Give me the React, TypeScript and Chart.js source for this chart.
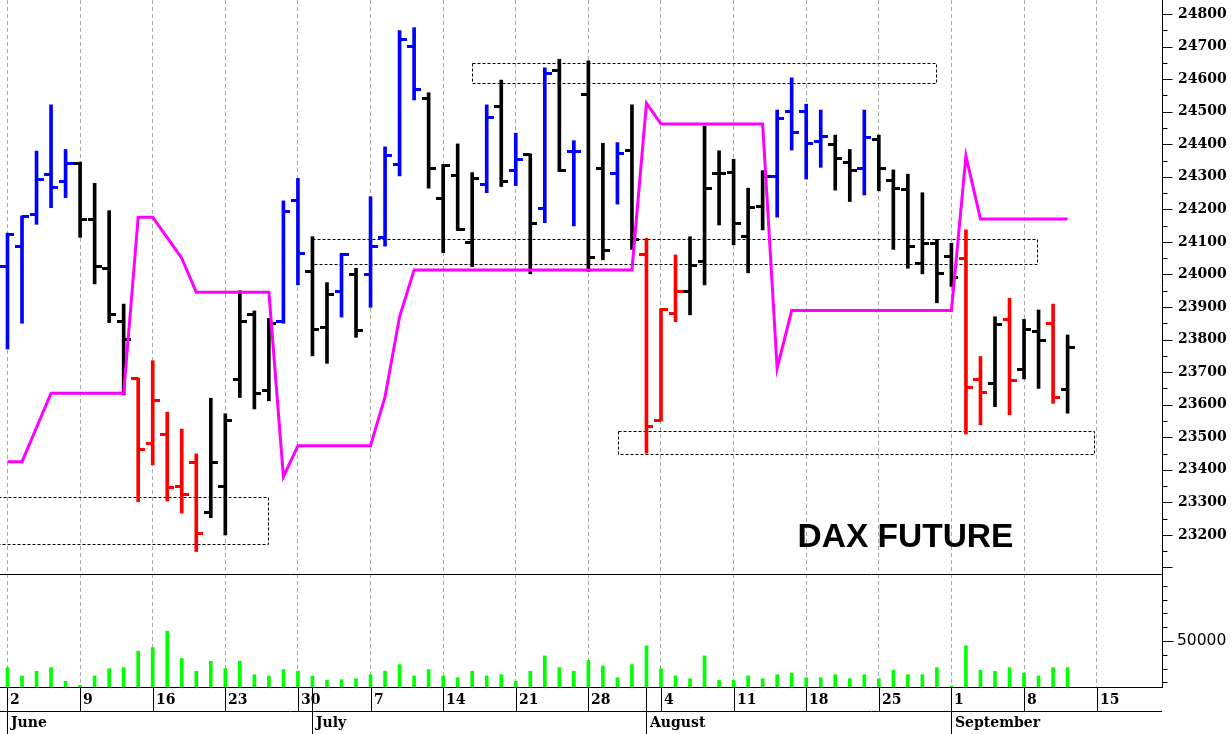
import React, { useEffect, useRef } from "react";
import { Chart, registerables } from "chart.js";

Chart.register(...registerables);

// ---------- DATA (trading days from Mon 2 June to Thu 11 September) ----------
const opens = [
  24023, 24085, 24183, 24306, 24285, 24341, 24170, 24019, 23855, 23679,
  23482, 23507, 23348, 23423, 23270, 23348, 23678, 23878, 23645, 23857,
  24226, 24009, 23837, 23947, 23999, 23999, 24114, 24338, 24700, 24541,
  24232, 24303, 24099, 24275, 24517, 24319, 24367, 24203, 24628, 24377,
  24553, 24326, 24311, 24382, 24060, 23553, 23879, 23947, 24039, 24311,
  24313, 24118, 24208, 24302, 24500, 24500, 24408, 24398, 24345, 24326,
  24415, 24290, 24262, 24034, 24096, 24055, 24050, 23676, 23664, 23862,
  23709, 23824, 23848, 23648,
];
const highs = [
  24127, 24180, 24379, 24521, 24384, 24345, 24280, 24196, 23909, 23682,
  23735, 23577, 23525, 23449, 23620, 23572, 23950, 23888, 23865, 24226,
  24295, 24116, 23975, 24065, 24019, 24239, 24392, 24749, 24758, 24558,
  24338, 24401, 24313, 24521, 24597, 24434, 24370, 24635, 24661, 24411,
  24656, 24403, 24405, 24521, 24111, 23895, 24060, 24116, 24456, 24380,
  24354, 24265, 24319, 24505, 24604, 24523, 24505, 24428, 24384, 24505,
  24428, 24321, 24308, 24251, 24108, 24096, 24137, 23748, 23870, 23927,
  23862, 23891, 23909, 23814,
];
const lows = [
  23771, 23850, 24154, 24205, 24236, 24114, 23971, 23852, 23630, 23302,
  23415, 23304, 23267, 23149, 23253, 23200, 23622, 23587, 23612, 23850,
  23968, 23750, 23727, 23869, 23807, 23899, 24087, 24303, 24536, 24265,
  24067, 24135, 24024, 24251, 24270, 24273, 24002, 24159, 24316, 24149,
  24009, 24045, 24216, 24077, 23451, 23550, 23855, 23876, 23968, 24152,
  24091, 24005, 24137, 24176, 24382, 24293, 24329, 24259, 24224, 24244,
  24257, 24077, 24019, 24002, 23913, 23963, 23510, 23538, 23594, 23569,
  23679, 23650, 23604, 23574,
];
const closes = [
  24122, 24178, 24293, 24267, 24341, 24170, 24024, 23878, 23799, 23463,
  23612, 23345, 23323, 23203, 23423, 23551, 23855, 23635, 23850, 24192,
  24063, 23832, 23937, 24060, 23827, 24085, 24365, 24723, 24567, 24324,
  24336, 24139, 24295, 24483, 24287, 24352, 24157, 24616, 24319, 24377,
  24053, 24073, 24372, 24108, 23533, 23893, 23947, 24029, 24265, 24311,
  24157, 24206, 24300, 24480, 24437, 24403, 24425, 24357, 24319, 24421,
  24324, 24265, 24085, 24094, 24004, 23990, 23652, 23638, 23847, 23673,
  23832, 23796, 23623, 23775,
];
// bar colour code: b = blue, k = black, r = red
const barColorCodes = [
  "b", "b", "b", "b", "b", "k", "k", "k", "k", "r",
  "r", "r", "r", "r", "k", "k", "k", "k", "k", "b",
  "b", "k", "k", "b", "k", "b", "b", "b", "b", "k",
  "k", "k", "k", "b", "k", "b", "k", "b", "k", "b",
  "k", "k", "b", "k", "r", "r", "r", "k", "k", "k",
  "k", "k", "k", "b", "b", "b", "b", "k", "k", "b",
  "k", "k", "k", "k", "k", "k", "r", "r", "k", "r",
  "k", "k", "r", "k",
];
const stopLine = [
  23425, 23425, 23530, 23635, 23635, 23635, 23635, 23635, 23635, 24176,
  24176, 24113, 24050, 23945, 23945, 23945, 23945, 23945, 23945, 23379,
  23474, 23474, 23474, 23474, 23474, 23474, 23625, 23870, 24014, 24014,
  24014, 24014, 24014, 24014, 24014, 24014, 24014, 24014, 24014, 24014,
  24014, 24014, 24014, 24014, 24526, 24462, 24462, 24462, 24462, 24462,
  24462, 24462, 24462, 23712, 23889, 23889, 23889, 23889, 23889, 23889,
  23889, 23889, 23889, 23889, 23889, 23889, 24364, 24170, 24170, 24170,
  24170, 24170, 24170, 24170,
];
const volumes = [
  30700, 24700, 28100, 30700, 20800, 17900, 24700, 30000, 30700, 42600,
  45200, 57100, 37300, 28100, 35300, 30000, 35300, 25600, 24700, 29300,
  28100, 24700, 21500, 22000, 22700, 25600, 28100, 32900, 24700, 29300,
  24700, 23400, 28100, 24700, 25600, 20800, 28100, 39200, 30700, 28100,
  36000, 31900, 23400, 32900, 46500, 30000, 24700, 22700, 39200, 21500,
  21500, 24700, 22700, 25600, 26800, 23400, 23400, 25600, 22700, 25600,
  22700, 28800, 25600, 25600, 30700, 17400, 46500, 28800, 28100, 30700,
  26800, 24700, 30700, 30700,
];
// x-axis calendar
const weekStarts = [0, 5, 10, 15, 20, 25, 30, 35, 40, 45, 50, 55, 60, 65, 70, 75];
const weekLabels = ["2", "9", "16", "23", "30", "7", "14", "21", "28", "4", "11", "18", "25", "1", "8", "15"];
const monthStarts = [0, 21, 44, 65];
const monthLabels = ["June", "July", "August", "September"];
// y-axis ticks
const priceLabelTicks = [23200, 23300, 23400, 23500, 23600, 23700, 23800, 23900, 24000, 24100, 24200, 24300, 24400, 24500, 24600, 24700, 24800];
const priceMarkTicks = [23100, 23150, 23200, 23250, 23300, 23350, 23400, 23450, 23500, 23550, 23600, 23650, 23700, 23750, 23800, 23850, 23900, 23950, 24000, 24050, 24100, 24150, 24200, 24250, 24300, 24350, 24400, 24450, 24500, 24550, 24600, 24650, 24700, 24750, 24800];
const volumeLabelTicks = [50000];
const volumeMarkTicks = [20000, 30000, 40000, 50000, 60000, 70000, 80000, 90000];
// dotted zones (day index / price)
const zoneStart = [-2, 32.0, 21.0, 42.07];
const zoneEnd = [17.92, 63.95, 70.9, 74.85];
const zoneTop = [23316, 24649, 24108, 23519];
const zoneBottom = [23171, 24587, 24031, 23449];
const titleText = "DAX FUTURE";
const titleAt = { day: 54.4, price: 23164 };

const BLUE = "#0000ff";
const RED = "#ff0000";
const BLACK = "#000000";
const MAGENTA = "#ff00ff";
const GREEN = "#00ff00";

const colorOf = (k: string) => (k === "b" ? BLUE : k === "r" ? RED : BLACK);

function tickImage(color: string, side: "left" | "right") {
  const len = 7;
  const c = document.createElement("canvas");
  c.width = len * 2;
  c.height = 3;
  const g = c.getContext("2d")!;
  g.fillStyle = color;
  g.fillRect(side === "left" ? 0 : len, 0, len, 3);
  return c;
}

const overlay = {
  id: "overlay",
  beforeDatasetsDraw(chart: any) {
    const { ctx, chartArea, scales } = chart;
    const xs = scales.x;
    const ys = scales.y;
    ctx.save();
    ctx.beginPath();
    ctx.rect(chartArea.left, ys.top, chartArea.right - chartArea.left, ys.bottom - ys.top);
    ctx.clip();
    ctx.setLineDash([3, 2]);
    ctx.strokeStyle = "#000";
    ctx.lineWidth = 1;
    for (let k = 0; k < zoneStart.length; k++) {
      const x0 = Math.round(xs.getPixelForValue(zoneStart[k])) + 0.5;
      const x1 = Math.round(xs.getPixelForValue(zoneEnd[k])) + 0.5;
      const y0 = Math.round(ys.getPixelForValue(zoneTop[k])) + 0.5;
      const y1 = Math.round(ys.getPixelForValue(zoneBottom[k])) + 0.5;
      ctx.strokeRect(x0, y0, x1 - x0, y1 - y0);
    }
    ctx.restore();
  },
  afterDraw(chart: any) {
    const { ctx, chartArea, scales } = chart;
    const xs = scales.x;
    const ys = scales.y;
    const yv = scales.yv;
    const right = chartArea.right;
    const axisX = Math.round(ys.left) + 0.5;
    ctx.save();
    ctx.strokeStyle = "#000";
    ctx.fillStyle = "#000";
    ctx.lineWidth = 1;
    ctx.setLineDash([]);

    // panel separator and baselines
    const sepY = Math.round(ys.bottom) + 0.5;
    const baseY = Math.round(yv.bottom) + 0.5;
    const rowY = baseY + 24;
    const bottomY = chart.height;
    ctx.beginPath();
    ctx.moveTo(0, sepY); ctx.lineTo(right, sepY);
    ctx.moveTo(0, baseY); ctx.lineTo(right, baseY);
    ctx.moveTo(0, rowY); ctx.lineTo(right, rowY);
    ctx.stroke();

    // axis tick marks
    ctx.beginPath();
    for (const v of priceMarkTicks) {
      const py = Math.round(ys.getPixelForValue(v)) + 0.5;
      const len = v % 100 === 0 ? 10 : 5;
      ctx.moveTo(axisX, py); ctx.lineTo(axisX + len, py);
    }
    for (const v of volumeMarkTicks) {
      const py = Math.round(yv.getPixelForValue(v)) + 0.5;
      const len = volumeLabelTicks.includes(v) ? 11 : 5;
      ctx.moveTo(axisX, py); ctx.lineTo(axisX + len, py);
    }
    ctx.stroke();

    // date rows
    ctx.font = 'bold 14px "DejaVu Serif"';
    ctx.textBaseline = "middle";
    ctx.textAlign = "left";
    ctx.beginPath();
    weekStarts.forEach((d) => {
      const px = Math.round(xs.getPixelForValue(d)) + 0.5;
      ctx.moveTo(px, baseY); ctx.lineTo(px, rowY);
    });
    monthStarts.forEach((d) => {
      const px = Math.round(xs.getPixelForValue(d)) + 0.5;
      ctx.moveTo(px, baseY); ctx.lineTo(px, bottomY);
    });
    ctx.stroke();
    weekStarts.forEach((d, i) => {
      const px = Math.round(xs.getPixelForValue(d));
      ctx.fillText(weekLabels[i], px + 3, baseY + 12.5);
    });
    monthStarts.forEach((d, i) => {
      const px = Math.round(xs.getPixelForValue(d));
      ctx.fillText(monthLabels[i], px + 4, rowY + 12);
    });

    // title
    ctx.font = 'bold 33.5px "Liberation Sans"';
    ctx.textBaseline = "alphabetic";
    ctx.fillText(titleText, xs.getPixelForValue(titleAt.day), ys.getPixelForValue(titleAt.price));
    ctx.restore();
  },
};

export default function App() {
  const ref = useRef<HTMLCanvasElement>(null);
  useEffect(() => {
    const canvas = ref.current!;
    const openImgs: Record<string, HTMLCanvasElement> = {
      b: tickImage(BLUE, "left"), k: tickImage(BLACK, "left"), r: tickImage(RED, "left"),
    };
    const closeImgs: Record<string, HTMLCanvasElement> = {
      b: tickImage(BLUE, "right"), k: tickImage(BLACK, "right"), r: tickImage(RED, "right"),
    };
    const chart = new Chart(canvas, {
      type: "bar",
      data: {
        datasets: [
          {
            type: "line",
            data: stopLine.map((v, i) => ({ x: i, y: v })),
            yAxisID: "y",
            borderColor: MAGENTA,
            borderWidth: 3,
            pointRadius: 0,
            tension: 0,
            fill: false,
          } as any,
          {
            type: "line",
            data: opens.map((v, i) => ({ x: i, y: v })),
            yAxisID: "y",
            showLine: false,
            pointRadius: 2,
            pointStyle: (c: any) => openImgs[barColorCodes[c.dataIndex]],
          } as any,
          {
            type: "line",
            data: closes.map((v, i) => ({ x: i, y: v })),
            yAxisID: "y",
            showLine: false,
            pointRadius: 2,
            pointStyle: (c: any) => closeImgs[barColorCodes[c.dataIndex]],
          } as any,
          {
            type: "bar",
            data: lows.map((v, i) => ({ x: i, y: [v, highs[i]] })),
            yAxisID: "y",
            grouped: false,
            barThickness: 3,
            borderWidth: 0,
            backgroundColor: (c: any) => colorOf(barColorCodes[c.dataIndex]),
          } as any,
          {
            type: "bar",
            data: volumes.map((v, i) => ({ x: i, y: v })),
            yAxisID: "yv",
            grouped: false,
            barThickness: 3,
            borderWidth: 0,
            backgroundColor: GREEN,
          } as any,
        ],
      },
      options: {
        responsive: false,
        maintainAspectRatio: false,
        devicePixelRatio: 1,
        animation: false,
        events: [],
        layout: { padding: 0, autoPadding: false },
        plugins: { legend: { display: false }, tooltip: { enabled: false } },
        scales: {
          x: {
            type: "linear",
            min: -0.516,
            max: 79.5,
            offset: false,
            afterBuildTicks: (s: any) => { s.ticks = weekStarts.map((v) => ({ value: v })); },
            afterFit: (s: any) => { s.height = 47; s.paddingLeft = 0; s.paddingRight = 0; },
            ticks: { display: false },
            grid: { color: "#a8a8a8", lineWidth: 1, drawTicks: false, offset: false },
            border: { display: false, dash: [4, 3] },
          },
          y: {
            type: "linear",
            position: "right",
            stack: "panels",
            stackWeight: 574,
            min: 23080,
            max: 24843,
            afterBuildTicks: (s: any) => { s.ticks = priceLabelTicks.map((v) => ({ value: v })); },
            afterFit: (s: any) => { s.width = 70; s.paddingTop = 0; s.paddingBottom = 0; },
            ticks: {
              autoSkip: false, padding: 16, color: "#000",
              font: { family: "DejaVu Serif", size: 14, weight: "bold" },
              callback: (v: any) => String(v),
            },
            grid: { drawOnChartArea: false, drawTicks: false },
            border: { display: true, color: "#000", width: 1 },
          },
          yv: {
            type: "linear",
            position: "right",
            stack: "panels",
            stackWeight: 113,
            min: 16700,
            max: 98500,
            afterBuildTicks: (s: any) => { s.ticks = volumeLabelTicks.map((v) => ({ value: v })); },
            afterFit: (s: any) => { s.width = 70; s.paddingTop = 0; s.paddingBottom = 0; },
            ticks: {
              autoSkip: false, padding: 15, color: "#000",
              font: { family: "DejaVu Sans", size: 15.5 },
              callback: (v: any) => String(v),
            },
            grid: { drawOnChartArea: false, drawTicks: false },
            border: { display: true, color: "#000", width: 1 },
          },
        },
      } as any,
      plugins: [overlay],
    });
    return () => chart.destroy();
  }, []);
  return (
    <div style={{ position: "fixed", left: 0, top: 0, width: 1232, height: 734, background: "#fff" }}>
      <canvas ref={ref} width={1232} height={734} style={{ display: "block", width: 1232, height: 734 }} />
    </div>
  );
}
